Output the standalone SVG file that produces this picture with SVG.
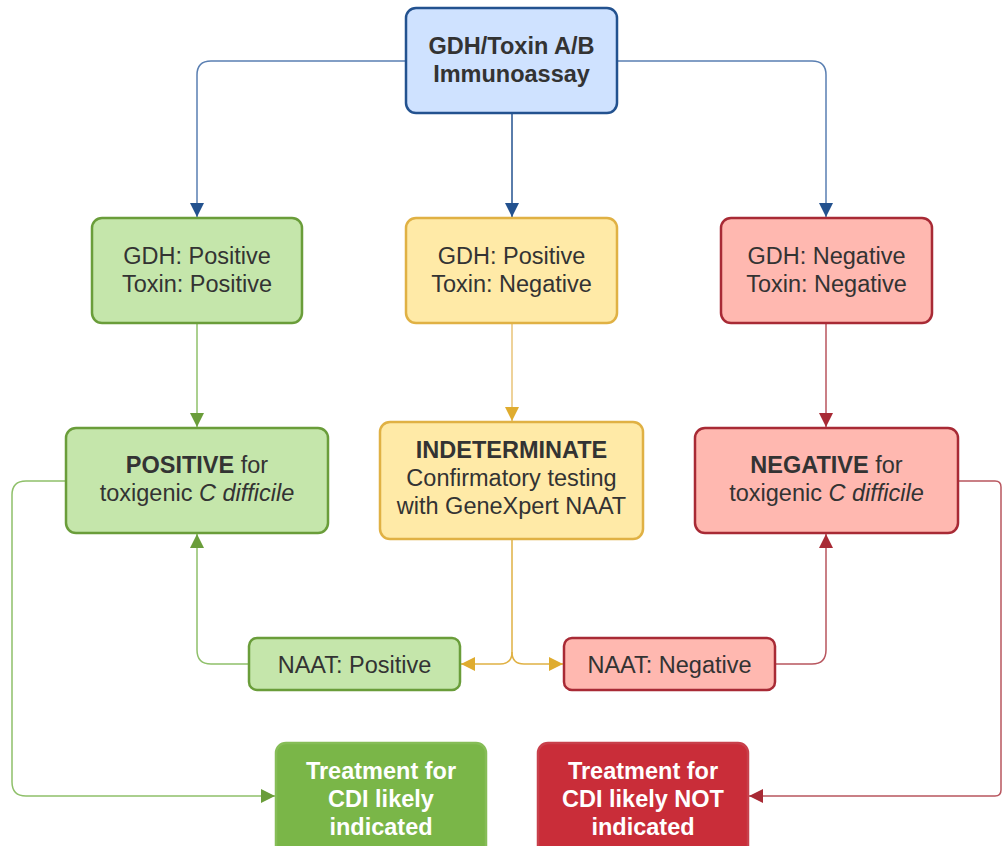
<svg xmlns="http://www.w3.org/2000/svg" width="1002" height="846" viewBox="0 0 1002 846">
<style>
text{font-family:"Liberation Sans",Arial,sans-serif;font-size:23.5px;fill:#333;text-anchor:middle}
.b{font-weight:bold}
.w{fill:#fff;font-weight:bold}
.i{font-style:italic}
.box{stroke-width:2.5}
.blue{fill:#cfe2ff;stroke:#23528f}
.green{fill:#c5e6ab;stroke:#6a9d3a}
.yellow{fill:#ffeaa7;stroke:#e0b144}
.red{fill:#ffb8b0;stroke:#a82a35}
.gdark{fill:#7ab648;stroke:#86bd57}
.rdark{fill:#c92d39;stroke:#c8404b}
.c{fill:none;stroke-width:1.5}
</style>
<defs>
<marker id="ab" markerUnits="userSpaceOnUse" markerWidth="14" markerHeight="16" refX="14" refY="7" orient="auto"><path d="M0,0L14,7L0,14Z" fill="#23528f"/></marker>
<marker id="ag" markerUnits="userSpaceOnUse" markerWidth="14" markerHeight="16" refX="14" refY="7" orient="auto"><path d="M0,0L14,7L0,14Z" fill="#6a9d3a"/></marker>
<marker id="ay" markerUnits="userSpaceOnUse" markerWidth="14" markerHeight="16" refX="14" refY="7" orient="auto"><path d="M0,0L14,7L0,14Z" fill="#dfac2f"/></marker>
<marker id="ar" markerUnits="userSpaceOnUse" markerWidth="14" markerHeight="16" refX="14" refY="7" orient="auto"><path d="M0,0L14,7L0,14Z" fill="#a82a35"/></marker>
</defs>
<g id="connectors">
<path class="c" d="M406,61H211Q197,61 197,75V217" stroke="#5a7fb2" marker-end="url(#ab)"/>
<path class="c" d="M617,61H812Q826,61 826,75V217" stroke="#5a7fb2" marker-end="url(#ab)"/>
<path class="c" d="M512,113V217" stroke="#23528f" marker-end="url(#ab)"/>
<path class="c" d="M197,323V427" stroke="#8fc06a" marker-end="url(#ag)"/>
<path class="c" d="M512,323V421" stroke="#e8c377" marker-end="url(#ay)"/>
<path class="c" d="M826,323V427" stroke="#b8555e" marker-end="url(#ar)"/>
<path class="c" d="M512,539V652Q512,664 500,664H461" stroke="#e0b144" marker-end="url(#ay)"/>
<path class="c" d="M512,652Q512,664 524,664H563" stroke="#e0b144" marker-end="url(#ay)"/>
<path class="c" d="M249,664H211Q197,664 197,650V534" stroke="#8fc06a" marker-end="url(#ag)"/>
<path class="c" d="M775,664H812Q826,664 826,650V534" stroke="#b8555e" marker-end="url(#ar)"/>
<path class="c" d="M66,481H26Q12,481 12,495V782Q12,796 26,796H275" stroke="#8fc06a" marker-end="url(#ag)"/>
<path class="c" d="M958,481H995Q1001,481 1001,487V790Q1001,796 995,796H749" stroke="#b8555e" marker-end="url(#ar)"/>
</g>
<g id="n-immuno"><rect class="box blue" x="406" y="8" width="211" height="105" rx="10"/><text class="b" x="511.5" y="53.5">GDH/Toxin A/B</text><text class="b" x="511.5" y="81.5">Immunoassay</text></g>
<g id="n-pp"><rect class="box green" x="92" y="218" width="210" height="105" rx="10"/><text x="197" y="263.5">GDH: Positive</text><text x="197" y="291.5">Toxin: Positive</text></g>
<g id="n-pn"><rect class="box yellow" x="406" y="218" width="211" height="105" rx="10"/><text x="511.5" y="263.5">GDH: Positive</text><text x="511.5" y="291.5">Toxin: Negative</text></g>
<g id="n-nn"><rect class="box red" x="721" y="218" width="211" height="105" rx="10"/><text x="826.5" y="263.5">GDH: Negative</text><text x="826.5" y="291.5">Toxin: Negative</text></g>
<g id="n-positive"><rect class="box green" x="66" y="428" width="262" height="105" rx="10"/><text x="197" y="472.5"><tspan class="b">POSITIVE</tspan> for</text><text x="197" y="500.5">toxigenic <tspan class="i">C difficile</tspan></text></g>
<g id="n-indet"><rect class="box yellow" x="380" y="422" width="263" height="117" rx="10"/><text class="b" x="511.5" y="457.5">INDETERMINATE</text><text x="511.5" y="486">Confirmatory testing</text><text x="511.5" y="514">with GeneXpert NAAT</text></g>
<g id="n-negative"><rect class="box red" x="695" y="428" width="263" height="105" rx="10"/><text x="826.5" y="472.5"><tspan class="b">NEGATIVE</tspan> for</text><text x="826.5" y="500.5">toxigenic <tspan class="i">C difficile</tspan></text></g>
<g id="n-naatpos"><rect class="box green" x="249" y="638" width="211" height="52" rx="8"/><text x="354.5" y="672.5">NAAT: Positive</text></g>
<g id="n-naatneg"><rect class="box red" x="564" y="638" width="211" height="52" rx="8"/><text x="669.5" y="672.5">NAAT: Negative</text></g>
<g id="n-treat"><rect class="box gdark" x="276" y="743" width="210" height="115" rx="10"/><text class="w" x="381" y="778.5">Treatment for</text><text class="w" x="381" y="806.5">CDI likely</text><text class="w" x="381" y="834.5">indicated</text></g>
<g id="n-notreat"><rect class="box rdark" x="538" y="743" width="210" height="115" rx="10"/><text class="w" x="643" y="778.5">Treatment for</text><text class="w" x="643" y="806.5">CDI likely NOT</text><text class="w" x="643" y="834.5">indicated</text></g>
</svg>
